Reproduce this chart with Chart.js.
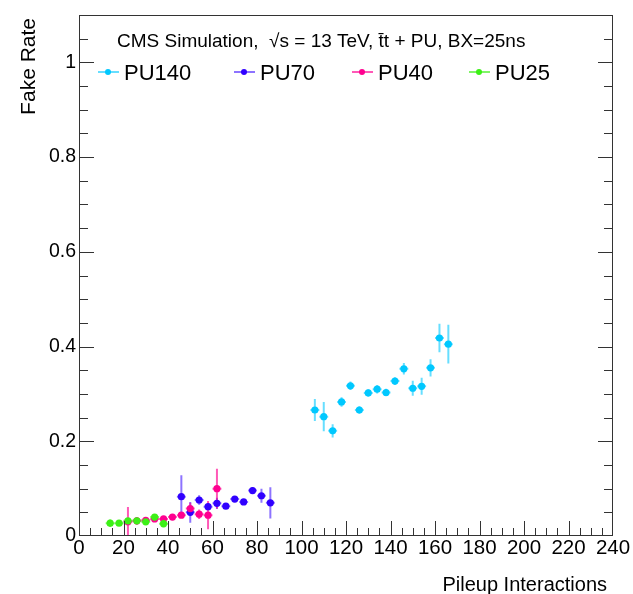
<!DOCTYPE html>
<html>
<head>
<meta charset="utf-8">
<script src="https://cdn.jsdelivr.net/npm/chart.js@4.4.1/dist/chart.umd.min.js"></script>
<style>
	html, body { margin: 0; padding: 0; background: #fff; }
	#wrap { width: 633px; height: 594px; }
</style>
</head>
<body>
<div id="wrap"><canvas id="fakeRateChart" width="633" height="594"></canvas></div>
<script>
// axis ticks
const xTicks = [0, 20, 40, 60, 80, 100, 120, 140, 160, 180, 200, 220, 240];
const yTicks = [0, 0.2, 0.4, 0.6, 0.8, 1];
const binHalfWidth = 2;

// PU140
const pu140X = [106, 110, 114, 118, 122, 126, 130, 134, 138, 142, 146, 150, 154, 158, 162, 166];
const pu140Y = [0.266, 0.252, 0.222, 0.283, 0.317, 0.266, 0.302, 0.310, 0.303, 0.327, 0.353, 0.312, 0.316, 0.355, 0.418, 0.405];
const pu140Err = [0.023, 0.031, 0.014, 0.010, 0.009, 0.008, 0.008, 0.009, 0.008, 0.008, 0.012, 0.016, 0.018, 0.018, 0.030, 0.041];

// PU70
const pu70X = [46, 50, 54, 58, 62, 66, 70, 74, 78, 82, 86];
const pu70Y = [0.083, 0.050, 0.076, 0.062, 0.069, 0.063, 0.078, 0.072, 0.096, 0.085, 0.070];
const pu70Err = [0.045, 0.022, 0.010, 0.008, 0.012, 0.006, 0.006, 0.006, 0.007, 0.015, 0.033];

// PU40
const pu40X = [22, 26, 30, 34, 38, 42, 46, 50, 54, 58, 62];
const pu40Y = [0.030, 0.032, 0.033, 0.036, 0.036, 0.040, 0.044, 0.058, 0.046, 0.044, 0.100];
const pu40Err = [0.031, 0.008, 0.005, 0.005, 0.005, 0.005, 0.005, 0.012, 0.010, 0.030, 0.042];

// PU25
const pu25X = [14, 18, 22, 26, 30, 34, 38];
const pu25Y = [0.027, 0.027, 0.032, 0.032, 0.030, 0.040, 0.026];
const pu25Err = [0.008, 0.005, 0.005, 0.005, 0.005, 0.005, 0.008];

const seriesNames = ["PU140", "PU70", "PU40", "PU25"];
const seriesX = [pu140X, pu70X, pu40X, pu25X];
const seriesY = [pu140Y, pu70Y, pu40Y, pu25Y];
const seriesErr = [pu140Err, pu70Err, pu40Err, pu25Err];
const seriesColors = ["#00c8ff", "#3000ff", "#ff0090", "#3cf016"];
const errColors = ["rgba(0,200,255,0.6)", "rgba(48,0,255,0.55)", "rgba(255,0,144,0.65)", "rgba(60,240,22,0.65)"];

const FONT = '"Liberation Sans", Arial, Helvetica, sans-serif';

const datasets = seriesNames.map(function (name, i) {
	return {
		label: name,
		data: seriesX[i].map((x, j) => ({ x: x, y: seriesY[i][j], err: seriesErr[i][j] })),
		pointRadius: 3.6,
		pointBackgroundColor: seriesColors[i],
		pointBorderWidth: 0,
		showLine: false,
		errColor: errColors[i],
		order: seriesNames.length - i,
	};
});

const errorBars = {
	id: "errorBars",
	beforeDatasetsDraw(chart) {
		const ctx = chart.ctx;
		const a = chart.chartArea;
		const xs = chart.scales.x;
		const ys = chart.scales.y;
		ctx.save();
		ctx.beginPath();
		ctx.rect(a.left, a.top, a.right - a.left, a.bottom - a.top);
		ctx.clip();
		ctx.lineWidth = 2;
		chart.data.datasets.forEach(function (ds) {
			ctx.strokeStyle = ds.errColor;
			ds.data.forEach(function (p) {
				const px = xs.getPixelForValue(p.x);
				const py = ys.getPixelForValue(p.y);
				ctx.beginPath();
				ctx.moveTo(xs.getPixelForValue(p.x - binHalfWidth), py);
				ctx.lineTo(xs.getPixelForValue(p.x + binHalfWidth), py);
				ctx.moveTo(px, ys.getPixelForValue(p.y - p.err));
				ctx.lineTo(px, ys.getPixelForValue(p.y + p.err));
				ctx.stroke();
			});
		});
		ctx.restore();
	},
};

// ROOT-like frame with inward ticks, title, legend and axis titles
const frameAndText = {
	id: "frameAndText",
	afterDraw(chart) {
		const ctx = chart.ctx;
		const a = chart.chartArea;
		const xs = chart.scales.x;
		const ys = chart.scales.y;
		ctx.save();
		ctx.strokeStyle = "#333";
		ctx.lineWidth = 1;
		ctx.strokeRect(a.left + 0.5, a.top + 0.5, a.right - a.left - 1, a.bottom - a.top - 1);

		ctx.beginPath();
		for (let v = 5; v < 240; v += 5) {
			const px = Math.round(xs.getPixelForValue(v)) + 0.5;
			const len = v % 20 === 0 ? 15 : 8;
			ctx.moveTo(px, a.bottom);
			ctx.lineTo(px, a.bottom - len);
		}
		for (let k = 1; k <= 22; k++) {
			const py = Math.round(ys.getPixelForValue(k * 0.05)) + 0.5;
			const len = k % 4 === 0 ? 15 : 9;
			ctx.moveTo(a.left, py);
			ctx.lineTo(a.left + len, py);
			ctx.moveTo(a.right, py);
			ctx.lineTo(a.right - len, py);
		}
		ctx.stroke();

		ctx.fillStyle = "#000";
		ctx.textBaseline = "alphabetic";
		ctx.textAlign = "left";
		ctx.font = "19px " + FONT;
		ctx.fillText("CMS Simulation,  \u221As = 13 TeV, t\u0304t + PU, BX=25ns", 117, 47);

		// legend
		const legendX = [108, 244, 362, 479];
		ctx.font = "22px " + FONT;
		seriesNames.forEach(function (name, i) {
			const cx = legendX[i];
			ctx.strokeStyle = errColors[i];
			ctx.lineWidth = 2;
			ctx.beginPath();
			ctx.moveTo(cx - 10, 72);
			ctx.lineTo(cx + 11, 72);
			ctx.stroke();
			ctx.fillStyle = seriesColors[i];
			ctx.beginPath();
			ctx.arc(cx, 72, 3, 0, Math.PI * 2);
			ctx.fill();
			ctx.fillStyle = "#000";
			ctx.fillText(name, cx + 16, 79.5);
		});

		// axis titles
		ctx.font = "20px " + FONT;
		ctx.textAlign = "right";
		ctx.fillText("Pileup Interactions", 607, 591);
		ctx.translate(35, 18);
		ctx.rotate(-Math.PI / 2);
		ctx.font = "21px " + FONT;
		ctx.fillText("Fake Rate", 0, 0);
		ctx.restore();
	},
};

const ctxFake = document.getElementById("fakeRateChart").getContext("2d");
const fakeRateChart = new Chart(ctxFake, {
	type: "scatter",
	data: { datasets: datasets },
	options: {
		responsive: false,
		animation: false,
		devicePixelRatio: 1,
		layout: { padding: { top: 15, right: 20, left: 0, bottom: 0 } },
		plugins: {
			legend: { display: false },
			tooltip: { enabled: false },
		},
		scales: {
			x: {
				type: "linear",
				min: 0,
				max: 240,
				grid: { display: false, drawTicks: false },
				border: { display: false },
				afterBuildTicks: (scale) => { scale.ticks = xTicks.map((v) => ({ value: v })); },
				afterFit: (scale) => { scale.height = 58; },
				ticks: {
					padding: 0,
					color: "#000",
					maxRotation: 0,
					autoSkip: false,
					font: { family: FONT, size: 20.5 },
				},
			},
			y: {
				type: "linear",
				min: 0,
				max: 1.1,
				grid: { display: false, drawTicks: false },
				border: { display: false },
				afterBuildTicks: (scale) => { scale.ticks = yTicks.map((v) => ({ value: v })); },
				afterFit: (scale) => { scale.width = 79; },
				ticks: {
					padding: 3,
					color: "#000",
					autoSkip: false,
					font: { family: FONT, size: 19.5 },
					callback: (v) => String(Math.round(v * 10) / 10),
				},
			},
		},
	},
	plugins: [errorBars, frameAndText],
});
</script>
</body>
</html>
